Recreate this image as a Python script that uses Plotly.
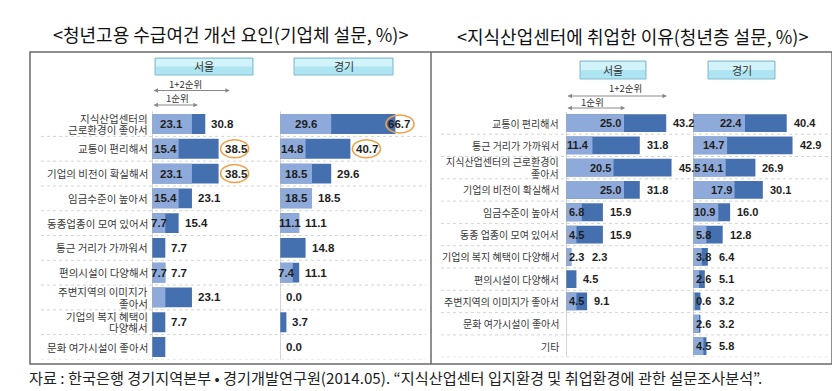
import plotly.graph_objects as go

W, H = 840, 391

# ---------------- DATA ----------------
LEFT_TITLE = "<청년고용 수급여건 개선 요인(기업체 설문, %)>"
RIGHT_TITLE = "<지식산업센터에 취업한 이유(청년층 설문, %)>"
REGIONS = ["서울", "경기"]
RANK_ALL = "1+2순위"
RANK_1 = "1순위"
SOURCE = "자료 : 한국은행 경기지역본부 • 경기개발연구원(2014.05). “지식산업센터 입지환경 및 취업환경에 관한 설문조사분석”."

left_cats = [
    "지식산업센터의<br>근로환경이 좋아서",
    "교통이 편리해서",
    "기업의 비전이 확실해서",
    "임금수준이 높아서",
    "동종업종이 모여 있어서",
    "통근 거리가 가까워서",
    "편의시설이 다양해서",
    "주변지역의 이미지가<br>좋아서",
    "기업의 복지 혜택이<br>다양해서",
    "문화 여가시설이 좋아서",
]
left_seoul_first = [23.1, 15.4, 23.1, 15.4, 7.7, None, 7.7, 7.7, None, None]
left_seoul_total = [30.8, 38.5, 38.5, 23.1, 15.4, 7.7, 7.7, 23.1, 7.7, 7.7]
left_gg_first = [29.6, 14.8, 18.5, 18.5, 11.1, None, 7.4, None, None, None]
left_gg_total = [66.7, 40.7, 29.6, 18.5, 11.1, 14.8, 11.1, 0.0, 3.7, 0.0]
# labels not printed in the original
left_seoul_first_hidden = [7]
left_seoul_total_hidden = [9]
# circled (highlighted) totals
left_seoul_circled = [1, 2]
left_gg_circled = [0, 1]

right_cats = [
    "교통이 편리해서",
    "통근 거리가 가까워서",
    "지식산업센터의 근로환경이<br>좋아서",
    "기업의 비전이 확실해서",
    "임금수준이 높아서",
    "동종 업종이 모여 있어서",
    "기업의 복지 혜택이 다양해서",
    "편의시설이 다양해서",
    "주변지역의 이미지가 좋아서",
    "문화 여가시설이 좋아서",
    "기타",
]
right_seoul_first = [25.0, 11.4, 20.5, 25.0, 6.8, 4.5, 2.3, None, 4.5, None, None]
right_seoul_total = [43.2, 31.8, 45.5, 31.8, 15.9, 15.9, 2.3, 4.5, 9.1, None, None]
right_gg_first = [22.4, 14.7, 14.1, 17.9, 10.9, 5.8, 3.8, 2.6, 0.6, 2.6, 4.5]
right_gg_total = [40.4, 42.9, 26.9, 30.1, 16.0, 12.8, 6.4, 5.1, 3.2, 3.2, 5.8]

# ---------------- STYLE ----------------
LIGHT = "#8eaadb"
DARK = "#4470b0"
LABEL_C = "#1e1e1e"
CAT_C = "#3a3a3a"
KR = "Noto Sans CJK KR"
NUM = "Liberation Sans"


def px(x):
    return x / W


def py(y):
    return 1 - y / H


# pixel scales (px per %)
LS = 1.73
RS = 2.32
L_SEOUL = (144, 272)
L_GG = (272, 418)
R_SEOUL = (558, 685)
R_GG = (685, 822)

fig = go.Figure()


def add_bars(first, total, xa, ya, n):
    ys = list(range(n))
    fig.add_trace(go.Bar(orientation="h", y=ys, x=total, xaxis=xa, yaxis=ya,
                         marker=dict(color=DARK, line=dict(width=0)), width=0.8,
                         hoverinfo="skip", showlegend=False))
    fig.add_trace(go.Bar(orientation="h", y=ys, x=first, xaxis=xa, yaxis=ya,
                         marker=dict(color=LIGHT, line=dict(width=0)), width=0.8,
                         hoverinfo="skip", showlegend=False))


add_bars(left_seoul_first, left_seoul_total, "x", "y", len(left_cats))
add_bars(left_gg_first, left_gg_total, "x2", "y", len(left_cats))
add_bars(right_seoul_first, right_seoul_total, "x3", "y2", len(right_cats))
add_bars(right_gg_first, right_gg_total, "x4", "y2", len(right_cats))

annotations = []
shapes = []


def lab(text, x, y, xref, yref, anchor, xshift=0, size=11.5):
    annotations.append(dict(text=text, x=x, y=y, xref=xref, yref=yref, xanchor=anchor,
                            yanchor="middle", xshift=xshift, showarrow=False,
                            font=dict(family=NUM, size=size, color=LABEL_C, weight="bold")))


# category labels (one annotation per line for tight line spacing)
def cat_labels(cats, xref, yref, size, gap, line_h):
    for i, c in enumerate(cats):
        lines = c.split("<br>")
        k = len(lines)
        for j, ln in enumerate(lines):
            annotations.append(dict(text=ln, x=0, y=i, xref=xref, yref=yref,
                                    xanchor="right", yanchor="middle", xshift=-gap,
                                    yshift=((k - 1) / 2 - j) * line_h, showarrow=False,
                                    borderpad=0,
                                    font=dict(family=KR, size=size, color=CAT_C)))


cat_labels(left_cats, "x", "y", 10.5, 3, 11.5)
cat_labels(right_cats, "x3", "y2", 10, 6, 12)

LABEL_W = 24  # approx label width in px
# left chart labels
for first, total, xa, hid_f, hid_t, circ, span in [
    (left_seoul_first, left_seoul_total, "x", left_seoul_first_hidden, left_seoul_total_hidden,
     left_seoul_circled, L_SEOUL),
    (left_gg_first, left_gg_total, "x2", [], [], left_gg_circled, L_GG),
]:
    width_px = span[1] - span[0]
    xmax = width_px / LS
    for i, (f, t) in enumerate(zip(first, total)):
        if f is not None and i not in hid_f:
            lab(f"{f:.1f}", f / 2, i, xa, "y", "center")
        if t is not None and i not in hid_t:
            if t * LS + 4 + LABEL_W > width_px - 14:
                xd, anc, sh = xmax, "right", -14
                center = sh - LABEL_W / 2
            else:
                xd, anc, sh = t, "left", 4
                center = sh + LABEL_W / 2
            lab(f"{t:.1f}", xd, i, xa, "y", anc, xshift=sh)
            if i in circ:
                shapes.append(dict(type="circle", xref=xa, yref="y", xsizemode="pixel",
                                   ysizemode="pixel", xanchor=xd, yanchor=i,
                                   x0=center - 14, x1=center + 14, y0=-9, y1=9,
                                   line=dict(color="#f0a04b", width=1.6)))

# right chart labels
SMALL_LAB_END = 22  # px: right edge of a first-rank label drawn from the base
for first, total, xa in [
    (right_seoul_first, right_seoul_total, "x3"),
    (right_gg_first, right_gg_total, "x4"),
]:
    for i, (f, t) in enumerate(zip(first, total)):
        small_first = False
        if f is not None:
            if f * RS >= 22:
                lab(f"{f:.1f}", f, i, xa, "y2", "right", xshift=-1, size=11)
            else:
                small_first = True
                lab(f"{f:.1f}", 0, i, xa, "y2", "left", xshift=1, size=11)
        if t is not None:
            if small_first and t * RS + 5 < SMALL_LAB_END + 2:
                lab(f"{t:.1f}", 0, i, xa, "y2", "left", xshift=SMALL_LAB_END + 2, size=11)
            else:
                lab(f"{t:.1f}", t, i, xa, "y2", "left", xshift=5, size=11)

# separators & axis lines
nL, nR = len(left_cats), len(right_cats)
for i in range(nL):
    shapes.append(dict(type="line", xref="paper", yref="y", x0=px(33), x1=px(418),
                       y0=i + 0.5, y1=i + 0.5, line=dict(color="#d4d4d4", width=1, dash="dot")))
for i in range(nR):
    shapes.append(dict(type="line", xref="paper", yref="y2", x0=px(433), x1=px(822),
                       y0=i + 0.5, y1=i + 0.5, line=dict(color="#d4d4d4", width=1, dash="dot")))
for xa, ya, n in [("x", "y", nL), ("x2", "y", nL), ("x3", "y2", nR), ("x4", "y2", nR)]:
    shapes.append(dict(type="line", xref=xa, yref=ya, x0=0, x1=0, y0=-0.6, y1=n - 0.4,
                       line=dict(color="#a8a8a8", width=1)))

# outer box
BOX = dict(color="#6a6a6a", width=1.5)
shapes.append(dict(type="rect", xref="paper", yref="paper", x0=px(22), x1=px(824),
                   y0=py(356), y1=py(44), line=BOX, fillcolor="rgba(0,0,0,0)"))
shapes.append(dict(type="line", xref="paper", yref="paper", x0=px(423), x1=px(423),
                   y0=py(356), y1=py(44), line=BOX))


# buttons
def button(x0, x1, y0, y1, text):
    shapes.append(dict(type="rect", xref="paper", yref="paper", x0=px(x0), x1=px(x1),
                       y0=py(y1), y1=py(y0), fillcolor="#aee5f3",
                       line=dict(color="#86b9cb", width=1)))
    shapes.append(dict(type="rect", xref="paper", yref="paper", x0=px(x0 + 1), x1=px(x1 - 1),
                       y0=py((y0 + y1) / 2), y1=py(y0 + 1), fillcolor="#d3f3fa",
                       line=dict(width=0)))
    annotations.append(dict(text=text, x=px((x0 + x1) / 2), y=py((y0 + y1) / 2),
                            xref="paper", yref="paper", showarrow=False,
                            xanchor="center", yanchor="middle",
                            font=dict(family=KR, size=11, color="#333")))


button(147, 245, 50, 67, REGIONS[0])
button(286, 385, 50, 67, REGIONS[1])
button(572, 638, 53, 71, REGIONS[0])
button(700, 767, 53, 71, REGIONS[1])


# rank arrows
def arrow(xa, x_end, y_line, text, text_x, y_text):
    annotations.append(dict(x=x_end, y=py(y_line), xref=xa, yref="paper",
                            ax=0, ay=0, axref=xa, ayref="pixel",
                            showarrow=True, arrowhead=2, arrowside="end+start",
                            arrowsize=0.9, arrowwidth=1, arrowcolor="#8a8a8a", text=""))
    annotations.append(dict(text=text, x=text_x, y=py(y_text), xref=xa, yref="paper",
                            showarrow=False, xanchor="center", yanchor="middle",
                            font=dict(family=KR, size=9.5, color="#333")))


arrow("x", 45, 82.5, RANK_ALL, 19.5, 76)
arrow("x", 26.5, 97, RANK_1, 14.5, 90)
arrow("x3", 43.5, 88, RANK_ALL, 25.5, 80)
arrow("x3", 25.5, 100, RANK_1, 11.5, 94)

# titles
annotations.append(dict(text=LEFT_TITLE, x=px(222), y=py(26), xref="paper", yref="paper",
                        showarrow=False, xanchor="center", yanchor="middle",
                        font=dict(family=KR, size=18, color="#111")))
annotations.append(dict(text=RIGHT_TITLE, x=px(624), y=py(28), xref="paper", yref="paper",
                        showarrow=False, xanchor="center", yanchor="middle",
                        font=dict(family=KR, size=18, color="#111")))
annotations.append(dict(text=SOURCE, x=px(19), y=py(369), xref="paper", yref="paper",
                        showarrow=False, xanchor="left", yanchor="middle",
                        font=dict(family=KR, size=15.2, color="#222")))

xaxis_common = dict(visible=False, fixedrange=True)
yaxis_common = dict(showgrid=False, zeroline=False, showline=False, ticks="",
                    showticklabels=False, fixedrange=True)

fig.update_layout(
    width=W, height=H,
    margin=dict(l=0, r=0, t=0, b=0),
    paper_bgcolor="white", plot_bgcolor="white",
    barmode="overlay",
    showlegend=False,
    xaxis=dict(domain=[px(L_SEOUL[0]), px(L_SEOUL[1])], range=[0, (L_SEOUL[1] - L_SEOUL[0]) / LS],
               anchor="y", **xaxis_common),
    xaxis2=dict(domain=[px(L_GG[0]), px(L_GG[1])], range=[0, (L_GG[1] - L_GG[0]) / LS],
                anchor="y", **xaxis_common),
    xaxis3=dict(domain=[px(R_SEOUL[0]), px(R_SEOUL[1])], range=[0, (R_SEOUL[1] - R_SEOUL[0]) / RS],
                anchor="y2", **xaxis_common),
    xaxis4=dict(domain=[px(R_GG[0]), px(R_GG[1])], range=[0, (R_GG[1] - R_GG[0]) / RS],
                anchor="y2", **xaxis_common),
    yaxis=dict(domain=[py(351.4), py(103.6)], range=[nL - 0.5, -0.5], anchor="x",
               **yaxis_common),
    yaxis2=dict(domain=[py(349.2), py(103.9)], range=[nR - 0.5, -0.5], anchor="x3",
                **yaxis_common),
    annotations=annotations,
    shapes=shapes,
)

fig.write_html("out.html")
